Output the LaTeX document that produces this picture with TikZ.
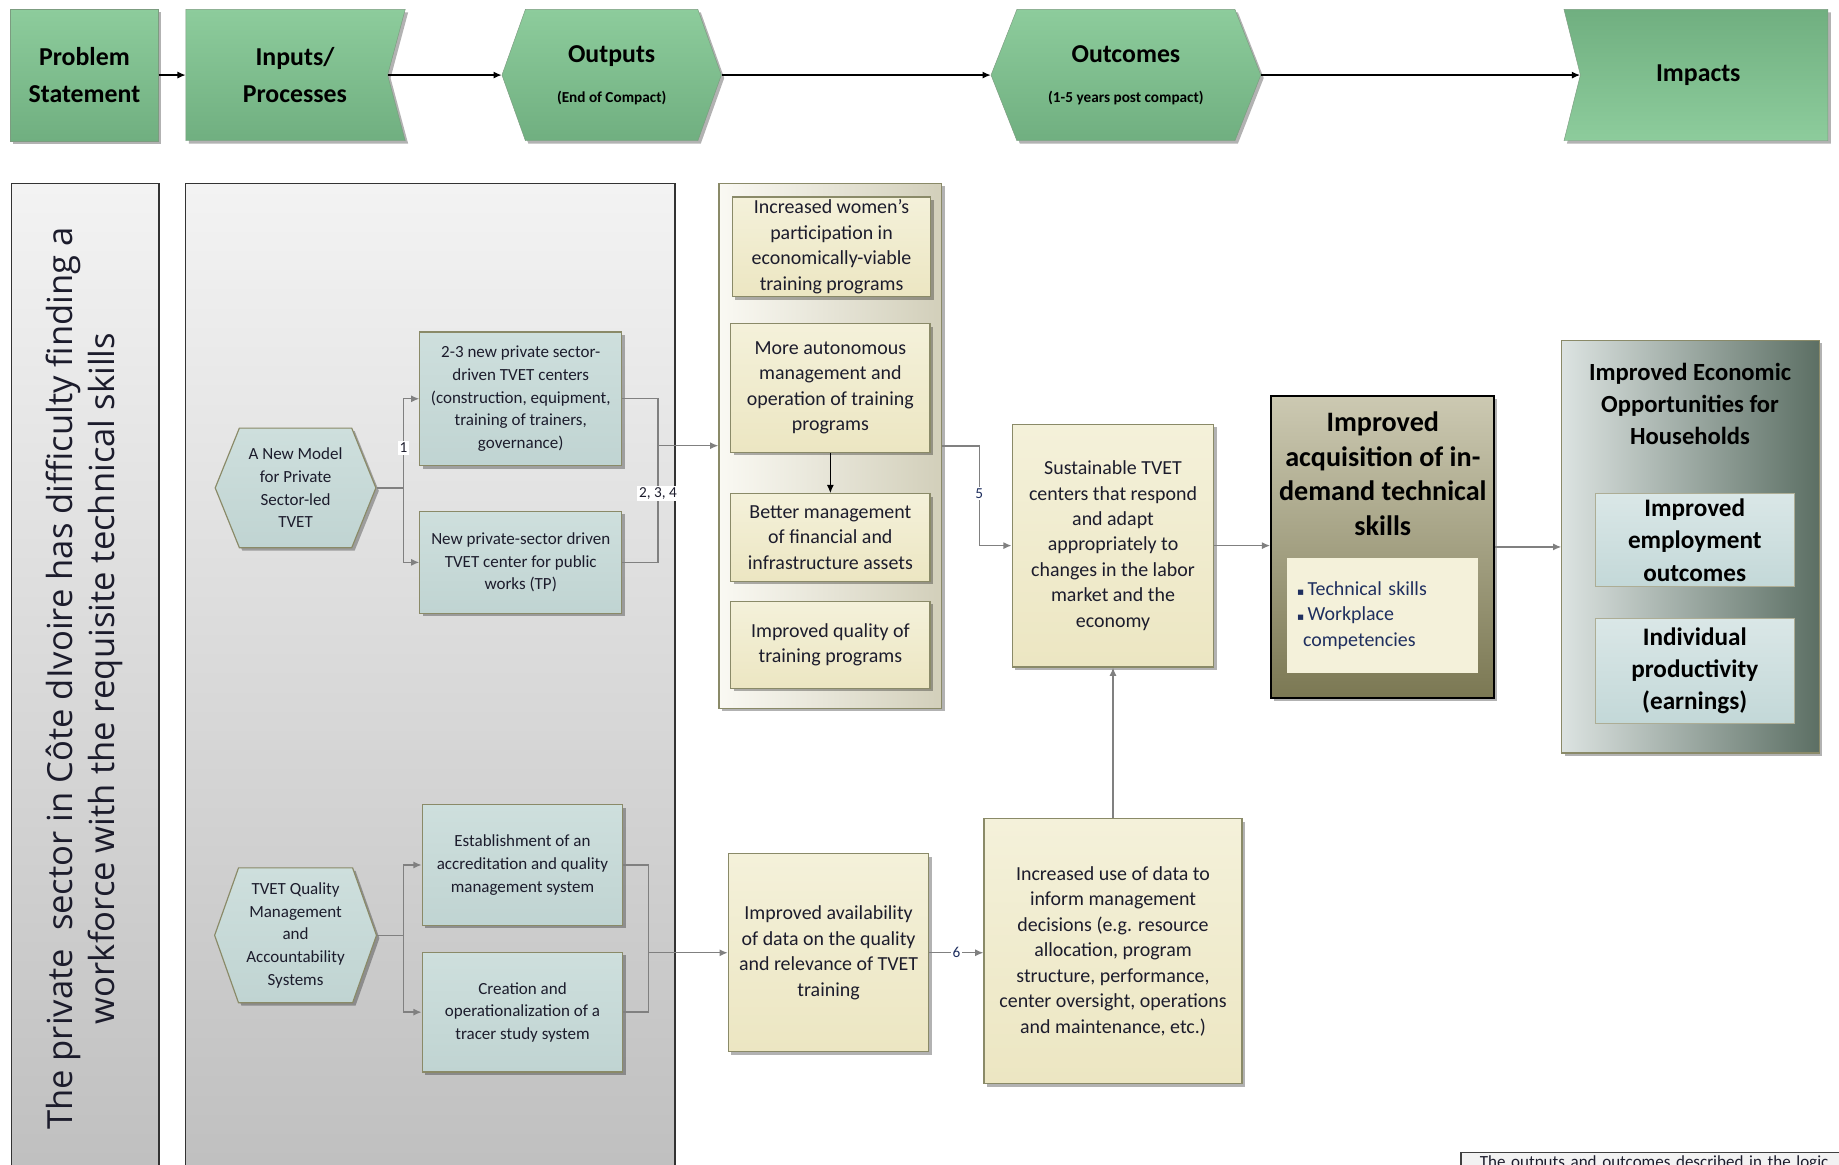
\documentclass[tikz,border=0pt]{standalone}
\usepackage{fontspec}
\setmainfont{Carlito}
\newfontfamily\probfont{Open Sans}
\newfontfamily\symfont{DejaVu Sans}
\usetikzlibrary{shapes.symbols,shadows,arrows.meta}

\definecolor{ink}{HTML}{1C1C2C}
\definecolor{navy}{HTML}{1F2F5F}
\definecolor{green1}{HTML}{8DCC9C}
\definecolor{green2}{HTML}{70AF80}
\definecolor{hdrline}{HTML}{7C9C80}
\definecolor{panel1}{HTML}{F3F3F3}
\definecolor{panel2}{HTML}{BCBCBC}
\definecolor{boxline}{HTML}{8A8A68}
\definecolor{cyan1}{HTML}{CEDFDD}
\definecolor{cyan2}{HTML}{C0D4D2}
\definecolor{cream1}{HTML}{F4F1DA}
\definecolor{cream2}{HTML}{ECE6C2}
\definecolor{out1}{HTML}{FAF9F3}
\definecolor{out2}{HTML}{D2CFBA}
\definecolor{acq1}{HTML}{CCC9B2}
\definecolor{acq2}{HTML}{7B7853}
\definecolor{imp1}{HTML}{DCE3E1}
\definecolor{imp2}{HTML}{5C6F64}
\definecolor{ice1}{HTML}{DAE7E7}
\definecolor{ice2}{HTML}{C3D8D8}
\definecolor{wiregray}{HTML}{808080}
\definecolor{notefill}{HTML}{F2F2F2}

\begin{document}
\begin{tikzpicture}[x=1pt,y=-1pt,
  every node/.style={text=ink,font=\fontsize{17}{21.7}\selectfont},
  dropsh/.style={drop shadow={shadow xshift=2.5pt,shadow yshift=-2.5pt,fill=black,opacity=.3}},
  hdr/.style={signal,draw=hdrline,top color=green1,bottom color=green2,minimum height=112pt,
    inner sep=0pt,align=center,text=black,font=\bfseries\fontsize{22}{31}\selectfont,dropsh},
  panel/.style={draw=black!80,line width=1pt,top color=panel1,bottom color=panel2,
    anchor=north west,minimum height=900pt},
  cyanbox/.style={draw=boxline,line width=1pt,top color=cyan1,bottom color=cyan2,align=center,
    inner sep=1pt,font=\fontsize{14.5}{19.3}\selectfont,dropsh},
  hexa/.style={cyanbox,signal,signal to=east and west,signal pointer angle=#1},
  cream/.style={draw=boxline,line width=1pt,top color=cream1,bottom color=cream2,align=center,
    inner sep=1pt,dropsh},
  icebox/.style={draw=boxline!70,line width=.8pt,top color=ice1,bottom color=ice2,align=center,
    inner sep=1pt,text=black,font=\bfseries\fontsize{21.5}{27.5}\selectfont,minimum width=170pt},
  wire/.style={draw=wiregray,line width=1.2pt},
  feed/.style={wire,-{Latex[length=7pt,width=6pt]}},
  numtag/.style={fill=white,inner sep=1.5pt,font=\fontsize{13}{15}\selectfont}]
\useasboundingbox (0,0) rectangle (1568,993.3);
\fill[white] (0,0) rectangle (1568,993.3);
\clip (0,0) rectangle (1568,993.3);

% header row
\node[hdr,rectangle,minimum width=126pt] (prob) at (72,64) {Problem\\Statement};
\node[hdr,signal to=nowhere,signal from=east,signal pointer angle=150,minimum width=187pt] (inp) at (244.5,64)
  {\hspace*{14pt}Inputs/\\\hspace*{14pt}Processes};
\node[hdr,signal to=east and west,signal pointer angle=140.7,minimum width=187pt] (outp) at (521.5,64)
  {Outputs\\[3pt]{\fontsize{13}{15}\selectfont(End of Compact)}};
\node[hdr,signal to=east and west,signal pointer angle=137,minimum width=230pt] (outc) at (960,64)
  {Outcomes\\[3pt]{\fontsize{13}{15}\selectfont(1-5 years post compact)}};
\node[hdr,signal to=nowhere,signal from=west,signal pointer angle=152,minimum width=225pt,
  top color=green2,bottom color=green1] (imp) at (1453,64) {Impacts\hspace*{10pt}};
\foreach \a/\b in {prob/inp,inp/outp,outp/outc,outc/imp}
  \draw[line width=1.2pt,-{Latex[length=7pt,width=6pt]}] (\a.east) -- (\b.west);

% problem and inputs columns
\node[panel,minimum width=126pt] (probbox) at (9,156) {};
\node[panel,minimum width=417pt] (inbox) at (158,156) {};
\node[rotate=90,align=center,font=\probfont\fontsize{29.5}{36}\selectfont] (probtxt) at (72,578.5)
  {The private\ \ sector in Côte dIvoire has difficulty finding a\\workforce with the requisite technical skills};

\node[hexa=136,minimum width=137pt,minimum height=102pt] (newmodel) at (252,416) {A New Model\\for Private\\Sector-led\\TVET};
\node[cyanbox,minimum width=172pt,minimum height=114pt] (centers) at (444,340)
  {2-3 new private sector-\\driven TVET centers\\(construction, equipment,\\training of trainers,\\governance)};
\node[cyanbox,minimum width=172pt,minimum height=87pt] (tpcenter) at (444,479.5)
  {New private-sector driven\\TVET center for public\\works (TP)};
\node[hexa=141,minimum width=138pt,minimum height=115pt] (tqm) at (252,797.5)
  {TVET Quality\\Management\\and\\Accountability\\Systems};
\node[cyanbox,minimum width=171pt,minimum height=103pt] (accred) at (445.5,737.5)
  {Establishment of an\\accreditation and quality\\management system};
\node[cyanbox,minimum width=171pt,minimum height=102pt] (tracer) at (445.5,863)
  {Creation and\\operationalization of a\\tracer study system};

% outputs
\node[draw=boxline,line width=1pt,left color=out1,right color=out2,minimum width=190pt,
  minimum height=447.5pt,dropsh] (outbox) at (708,380.25) {};
\node[cream,minimum width=169pt,minimum height=85pt] (women) at (709,210.4)
  {Increased women's\\participation in\\economically-viable\\training programs};
\node[cream,minimum width=170pt,minimum height=109.5pt] (autonomy) at (708,330.75)
  {More autonomous\\management and\\operation of training\\programs};
\node[cream,minimum width=170pt,minimum height=74.6pt] (assets) at (708,458.3)
  {Better management\\of financial and\\infrastructure assets};
\node[cream,minimum width=170pt,minimum height=74.4pt] (quality) at (708,549.8)
  {Improved quality of\\training programs};
\node[cream,minimum width=171pt,minimum height=168.7pt] (avail) at (706.5,812.35)
  {Improved availability\\of data on the quality\\and relevance of TVET\\training};

% outcomes
\node[cream,minimum width=172pt,minimum height=207pt] (sustain) at (949,465.2)
  {Sustainable TVET\\centers that respond\\and adapt\\appropriately to\\changes in the labor\\market and the\\economy};
\node[cream,minimum width=220pt,minimum height=226pt] (datause) at (949,811)
  {Increased use of data to\\inform management\\decisions (e.g. resource\\allocation, program\\structure, performance,\\center oversight, operations\\and maintenance, etc.)};
\node[draw=black,line width=1.6pt,top color=acq1,bottom color=acq2,minimum width=190pt,
  minimum height=257pt,dropsh] (acq) at (1178.75,466.35) {};
\node[align=center,text=black,font=\bfseries\fontsize{24}{29.5}\selectfont] (acqtitle) at (1179,404)
  {Improved\\acquisition of in-\\demand technical\\skills};
\node[fill=cream1,minimum width=163pt,minimum height=98.5pt,text width=145pt,align=left,text=navy] (acqlist) at (1178.5,524.75)
  {{\symfont\fontsize{9}{9}\selectfont▪}\,Technical skills\\{\symfont\fontsize{9}{9}\selectfont▪}\,Workplace\\\hspace*{5pt}competencies};

% impacts
\node[draw=boxline,line width=1pt,left color=imp1,right color=imp2,minimum width=219.3pt,
  minimum height=352pt,dropsh] (impbox) at (1441.35,466) {};
\node[align=center,text=black,font=\bfseries\fontsize{21}{27.5}\selectfont] (imptitle) at (1441,344.5)
  {Improved Economic\\Opportunities for\\Households};
\node[icebox,minimum height=79pt] (employ) at (1445,460.5) {Improved\\employment\\outcomes};
\node[icebox,minimum height=89.6pt] (earn) at (1445,571.8) {Individual\\productivity\\(earnings)};

% connectors
\coordinate (j1) at (344,416);
\coordinate (j2) at (344,797.5);
\coordinate (k1) at (561,380);
\coordinate (k2) at (553,812.35);
\coordinate (k3) at (835,421);
\draw[wire] (newmodel.east) -- (j1);
\draw[feed] (j1) |- (centers.west);
\draw[feed] (j1) |- (tpcenter.west);
\node[numtag] (n1) at (344,382) {1};
\draw[wire] (centers.east) -| (k1) |- (tpcenter.east);
\draw[feed] (k1) -- (k1 -| outbox.west);
\node[numtag] (n234) at (561,421) {2, 3, 4};
\draw[wire] (tqm.east) -- (j2);
\draw[feed] (j2) |- (accred.west);
\draw[feed] (j2) |- (tracer.west);
\draw[wire] (accred.east) -| (k2) |- (tracer.east);
\draw[feed] (k2) -- (avail.west);
\draw[line width=1.2pt,-{Latex[length=7pt,width=6pt]}] (autonomy) -- (assets);
\draw[feed] (outbox.east) -| (k3) |- (sustain.west);
\node[numtag,text=navy] (n5) at (k3) {5};
\draw[feed] (avail.east) -- (avail.east -| datause.west) node[pos=.5,numtag,text=navy] (n6) {6};
\draw[feed] (datause.north) -- (sustain.south);
\draw[feed] (sustain.east) -- (sustain.east -| acq.west);
\draw[feed] (acq.east) -- (acq.east -| impbox.west);

% note at the foot
\node[draw=black!75,line width=1.5pt,fill=notefill,anchor=north west,text width=380pt,inner xsep=16pt,
  inner ysep=3pt,align=left,font=\fontsize{14.5}{18}\selectfont] (note) at (1245,982)
  {The outputs and outcomes described in the logic};
\end{tikzpicture}
\end{document}
